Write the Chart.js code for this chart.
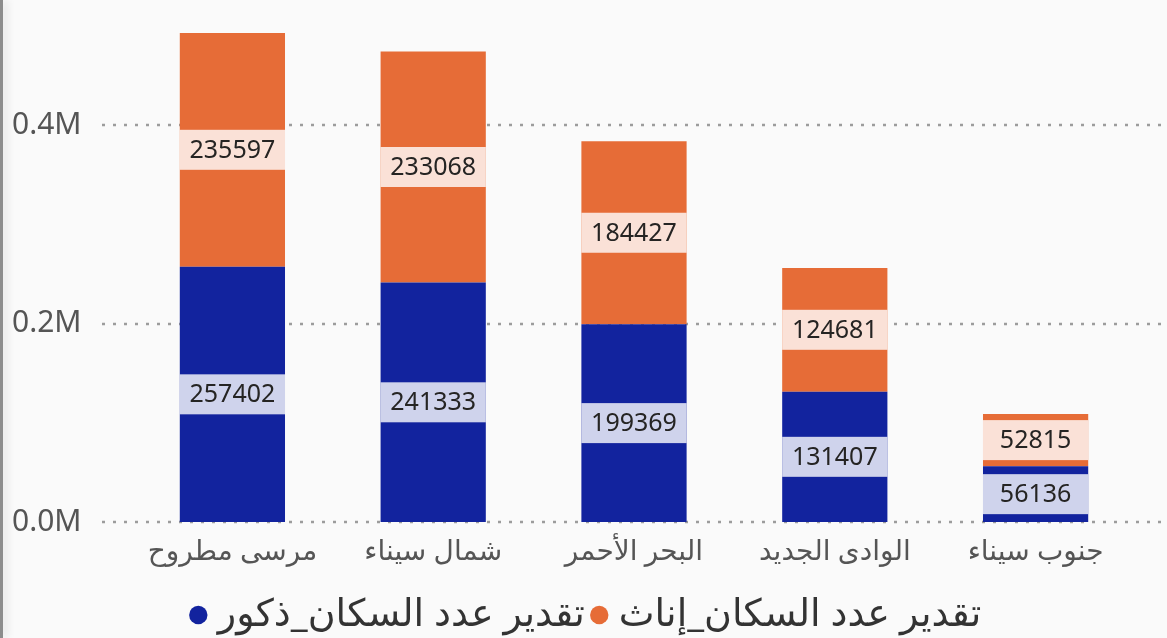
<!DOCTYPE html>
<html><head><meta charset="utf-8">
<script src="https://cdn.jsdelivr.net/npm/chart.js"></script>
<style>
html,body{margin:0;padding:0;background:#fafafa;overflow:hidden}
#wrap{position:relative;width:1167px;height:638px}
#edge{position:absolute;left:0;top:0;width:3px;height:638px;background:#8c8c8c;box-shadow:3px 0 9px rgba(0,0,0,0.18)}
canvas{display:block}
</style></head><body>
<div id="wrap"><canvas id="c" width="1167" height="638"></canvas><div id="edge"></div></div>
<script>
const categories = ['مرسى مطروح','شمال سيناء','البحر الأحمر','الوادى الجديد','جنوب سيناء'];
const maleValues = [257402,241333,199369,131407,56136];
const femaleValues = [235597,233068,184427,124681,52815];
const seriesNames = ['تقدير عدد السكان_ذكور','تقدير عدد السكان_إناث'];
const seriesColors = ['#12239E','#E66C37'];
const yTicks = [0,200000,400000];
const yMax = 500000;

const FONT = '"Noto Sans","DejaVu Sans",sans-serif';

const gridPlugin = {
  id:'dotGrid',
  beforeDatasetsDraw(chart){
    const ctx=chart.ctx, y=chart.scales.y;
    ctx.save();
    ctx.setLineDash([3,8]);
    ctx.lineWidth=2.5;
    ctx.strokeStyle='#9c9c9c';
    yTicks.forEach(v=>{
      const py=Math.round(y.getPixelForValue(v));
      ctx.beginPath(); ctx.moveTo(102,py); ctx.lineTo(chart.width,py); ctx.stroke();
    });
    ctx.restore();
  }
};

const labelPlugin = {
  id:'barLabels',
  afterDatasetsDraw(chart){
    const ctx=chart.ctx;
    ctx.save();
    chart.data.datasets.forEach((ds,i)=>{
      const meta=chart.getDatasetMeta(i);
      meta.data.forEach((bar,j)=>{
        const p=bar.getProps(['x','y','base','width'],true);
        const cy=(p.y+p.base)/2;
        ctx.fillStyle='rgba(255,255,255,0.8)';
        ctx.fillRect(p.x-p.width/2, cy-20, p.width, 40);
        ctx.fillStyle='#252423';
        ctx.font='25px '+FONT;
        ctx.textAlign='center';
        ctx.textBaseline='middle';
        ctx.fillText(String(ds.data[j]), p.x, cy+1);
      });
    });
    ctx.restore();
  }
};

new Chart(document.getElementById('c'),{
  type:'bar',
  data:{
    labels:categories,
    datasets:[
      {label:seriesNames[0],data:maleValues,backgroundColor:seriesColors[0],borderWidth:0},
      {label:seriesNames[1],data:femaleValues,backgroundColor:seriesColors[1],borderWidth:0}
    ]
  },
  options:{
    responsive:false,
    animation:false,
    layout:{padding:{top:26,right:0,bottom:-6,left:12}},
    datasets:{bar:{categoryPercentage:1,barPercentage:0.524}},
    scales:{
      x:{
        stacked:true,
        grid:{display:false,drawTicks:false},
        border:{display:false},
        ticks:{color:'#555555',font:{family:FONT,size:28},padding:13,maxRotation:0,autoSkip:false},
        afterFit(s){s.height=60;}
      },
      y:{
        stacked:true,
        min:0,max:yMax,
        grid:{display:false,drawTicks:false},
        border:{display:false},
        afterBuildTicks(s){s.ticks=yTicks.map(v=>({value:v}));},
        ticks:{color:'#555555',font:{family:FONT,size:30},padding:0,crossAlign:'far',
          callback:v=>(v/1000000).toFixed(1)+'M'},
        afterFit(s){s.width=120;}
      },
      yRight:{
        position:'right',
        min:0,max:yMax,
        grid:{display:false,drawTicks:false},
        border:{display:false},
        ticks:{display:false},
        afterFit(s){s.width=31;}
      }
    },
    plugins:{
      legend:{
        position:'bottom',
        labels:{usePointStyle:true,pointStyle:'circle',boxWidth:1,boxHeight:13,padding:14,
          color:'#333333',font:{family:FONT,size:38}}
      },
      tooltip:{enabled:false}
    }
  },
  plugins:[gridPlugin,labelPlugin]
});
</script>
</body></html>
